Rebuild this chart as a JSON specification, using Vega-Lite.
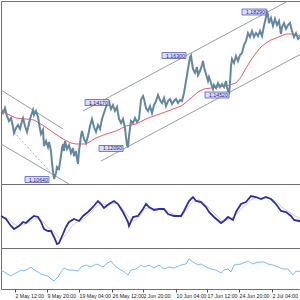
{
  "$schema": "https://vega.github.io/schema/vega-lite/v6.json",
  "padding": 0,
  "spacing": 0,
  "bounds": "flush",
  "background": "white",
  "config": {"view": {"stroke": "#707070", "strokeWidth": 1}, "concat": {"spacing": 0}},
  "datasets": {
    "price": [
      {"t":0,"p":1.13848},{"t":2,"p":1.13664},{"t":4,"p":1.13893},{"t":6,"p":1.13527},{"t":8,"p":1.13298},{"t":10,"p":1.13435},{"t":12,"p":1.13023},{"t":13,"p":1.12748},{"t":15,"p":1.12977},{"t":17,"p":1.13115},{"t":19,"p":1.12932},{"t":21,"p":1.13298},{"t":22,"p":1.13435},{"t":24,"p":1.13069},{"t":26,"p":1.12794},{"t":27,"p":1.12977},{"t":29,"p":1.1339},{"t":31,"p":1.13664},{"t":32,"p":1.13802},{"t":33,"p":1.13573},{"t":35,"p":1.13756},{"t":37,"p":1.13481},{"t":39,"p":1.12932},{"t":40,"p":1.12703},{"t":42,"p":1.12886},{"t":43,"p":1.12153},{"t":45,"p":1.12382},{"t":47,"p":1.12107},{"t":48,"p":1.12336},{"t":50,"p":1.11924},{"t":51,"p":1.11374},{"t":52,"p":1.11008},{"t":53,"p":1.1064},{"t":55,"p":1.10916},{"t":56,"p":1.11191},{"t":58,"p":1.111},{"t":60,"p":1.11695},{"t":61,"p":1.12061},{"t":62,"p":1.12245},{"t":63,"p":1.11924},{"t":64,"p":1.12382},{"t":66,"p":1.12016},{"t":68,"p":1.12199},{"t":70,"p":1.11832},{"t":72,"p":1.12061},{"t":73,"p":1.11695},{"t":75,"p":1.11924},{"t":76,"p":1.11558},{"t":77,"p":1.11329},{"t":78,"p":1.11924},{"t":80,"p":1.12611},{"t":81,"p":1.1284},{"t":83,"p":1.12474},{"t":85,"p":1.1229},{"t":87,"p":1.12611},{"t":89,"p":1.13069},{"t":91,"p":1.1339},{"t":93,"p":1.13023},{"t":95,"p":1.12794},{"t":97,"p":1.13115},{"t":99,"p":1.12932},{"t":101,"p":1.1339},{"t":103,"p":1.13664},{"t":105,"p":1.13939},{"t":107,"p":1.14122},{"t":108,"p":1.1417},{"t":110,"p":1.13848},{"t":112,"p":1.14031},{"t":114,"p":1.13756},{"t":116,"p":1.13939},{"t":118,"p":1.1339},{"t":120,"p":1.13206},{"t":122,"p":1.1339},{"t":124,"p":1.12977},{"t":125,"p":1.12565},{"t":126,"p":1.12199},{"t":127,"p":1.1209},{"t":128,"p":1.12611},{"t":130,"p":1.13298},{"t":132,"p":1.13206},{"t":134,"p":1.13435},{"t":136,"p":1.13252},{"t":138,"p":1.1339},{"t":140,"p":1.1426},{"t":142,"p":1.14443},{"t":143,"p":1.14306},{"t":145,"p":1.13893},{"t":147,"p":1.13756},{"t":149,"p":1.13985},{"t":151,"p":1.13664},{"t":153,"p":1.14031},{"t":155,"p":1.14214},{"t":157,"p":1.14489},{"t":159,"p":1.1426},{"t":161,"p":1.14122},{"t":163,"p":1.14351},{"t":165,"p":1.13985},{"t":167,"p":1.14214},{"t":169,"p":1.14306},{"t":171,"p":1.14077},{"t":173,"p":1.14214},{"t":175,"p":1.14306},{"t":177,"p":1.14122},{"t":179,"p":1.1426},{"t":181,"p":1.14214},{"t":183,"p":1.1458},{"t":185,"p":1.1513},{"t":186,"p":1.15405},{"t":188,"p":1.15954},{"t":189,"p":1.16229},{"t":190,"p":1.163},{"t":191,"p":1.15954},{"t":192,"p":1.1568},{"t":194,"p":1.15496},{"t":196,"p":1.15771},{"t":197,"p":1.15405},{"t":199,"p":1.15588},{"t":201,"p":1.15863},{"t":202,"p":1.16046},{"t":203,"p":1.15771},{"t":205,"p":1.15451},{"t":207,"p":1.1513},{"t":208,"p":1.15313},{"t":210,"p":1.15038},{"t":212,"p":1.14764},{"t":213,"p":1.14947},{"t":215,"p":1.14809},{"t":217,"p":1.15038},{"t":219,"p":1.14855},{"t":221,"p":1.14993},{"t":223,"p":1.14855},{"t":225,"p":1.1513},{"t":226,"p":1.14855},{"t":228,"p":1.1452},{"t":229,"p":1.15038},{"t":230,"p":1.15817},{"t":231,"p":1.16138},{"t":233,"p":1.15954},{"t":235,"p":1.16275},{"t":237,"p":1.16046},{"t":239,"p":1.16321},{"t":241,"p":1.16412},{"t":243,"p":1.16779},{"t":245,"p":1.16962},{"t":247,"p":1.17328},{"t":249,"p":1.17145},{"t":251,"p":1.1742},{"t":253,"p":1.17145},{"t":255,"p":1.17328},{"t":257,"p":1.17191},{"t":259,"p":1.1742},{"t":261,"p":1.17191},{"t":263,"p":1.17649},{"t":265,"p":1.18061},{"t":266,"p":1.1829},{"t":267,"p":1.18153},{"t":268,"p":1.17786},{"t":270,"p":1.18015},{"t":272,"p":1.17649},{"t":274,"p":1.1797},{"t":276,"p":1.17695},{"t":278,"p":1.17878},{"t":280,"p":1.17283},{"t":281,"p":1.17603},{"t":283,"p":1.17786},{"t":285,"p":1.17512},{"t":287,"p":1.17695},{"t":289,"p":1.17786},{"t":291,"p":1.1742},{"t":293,"p":1.17145},{"t":295,"p":1.17328},{"t":297,"p":1.17054},{"t":299,"p":1.17145},{"t":300,"p":1.17099}
    ],
    "ma": [
      {"t":0,"p":1.13756},{"t":15,"p":1.13435},{"t":25,"p":1.1339},{"t":33,"p":1.13344},{"t":43,"p":1.13069},{"t":53,"p":1.12748},{"t":62,"p":1.12474},{"t":70,"p":1.1229},{"t":75,"p":1.12245},{"t":85,"p":1.12245},{"t":95,"p":1.12519},{"t":105,"p":1.12703},{"t":115,"p":1.1284},{"t":125,"p":1.13069},{"t":135,"p":1.13161},{"t":145,"p":1.1339},{"t":150,"p":1.13481},{"t":167,"p":1.13756},{"t":180,"p":1.13985},{"t":183,"p":1.14077},{"t":190,"p":1.14351},{"t":197,"p":1.14626},{"t":203,"p":1.14764},{"t":210,"p":1.14809},{"t":217,"p":1.14855},{"t":225,"p":1.14901},{"t":235,"p":1.15038},{"t":240,"p":1.15313},{"t":245,"p":1.15725},{"t":250,"p":1.16092},{"t":255,"p":1.16412},{"t":260,"p":1.16687},{"t":265,"p":1.1687},{"t":270,"p":1.17008},{"t":275,"p":1.17099},{"t":280,"p":1.17191},{"t":285,"p":1.17283},{"t":290,"p":1.17283},{"t":295,"p":1.17237},{"t":300,"p":1.17191}
    ],
    "chan": [
      {"id":"a","t":0,"p":1.14718},{"id":"a","t":62,"p":1.12932},
      {"id":"b","t":0,"p":1.12245},{"id":"b","t":68,"p":1.10413},
      {"id":"c","t":82,"p":1.13756},{"id":"c","t":287,"p":1.18794},
      {"id":"d","t":100,"p":1.11466},{"id":"d","t":300,"p":1.16367}
    ],
    "guide": [{"t":13,"p":1.12794},{"t":50,"p":1.10916}],
    "labels": [
      {"t":48,"p":1.10619,"label":"1.10640"},
      {"t":108,"p":1.14145,"label":"1.14170"},
      {"t":122,"p":1.12039,"label":"1.12090"},
      {"t":185,"p":1.16298,"label":"1.16300"},
      {"t":228,"p":1.14489,"label":"1.14520"},
      {"t":265,"p":1.1829,"label":"1.18290"}
    ],
    "macd": [
      {"t":0,"v":0.0001},{"t":5,"v":-0.0002},{"t":10,"v":-0.0009},{"t":13,"v":-0.0012},{"t":18,"v":-0.0009},{"t":22,"v":-0.0005},{"t":25,"v":-0.0006},{"t":28,"v":-0.0003},{"t":33,"v":0.0001},{"t":37,"v":0},{"t":40,"v":-0.0005},{"t":43,"v":-0.0012},{"t":47,"v":-0.0014},{"t":50,"v":-0.0014},{"t":53,"v":-0.002},{"t":56,"v":-0.0027},{"t":58,"v":-0.0026},{"t":62,"v":-0.0017},{"t":65,"v":-0.001},{"t":68,"v":-0.0005},{"t":73,"v":-0.0002},{"t":78,"v":-0.0004},{"t":82,"v":0.0001},{"t":87,"v":0.0005},{"t":92,"v":0.001},{"t":97,"v":0.0016},{"t":100,"v":0.0013},{"t":103,"v":0.0009},{"t":108,"v":0.0013},{"t":113,"v":0.0016},{"t":117,"v":0.0013},{"t":122,"v":0.0005},{"t":127,"v":-0.0005},{"t":128,"v":-0.0009},{"t":132,"v":0},{"t":137,"v":0.0001},{"t":142,"v":0.0008},{"t":145,"v":0.0013},{"t":148,"v":0.001},{"t":153,"v":0.0007},{"t":158,"v":0.0008},{"t":163,"v":0.0008},{"t":167,"v":0.0003},{"t":173,"v":0.0001},{"t":180,"v":0.0001},{"t":183,"v":0.0006},{"t":188,"v":0.0016},{"t":192,"v":0.002},{"t":195,"v":0.0016},{"t":200,"v":0.0015},{"t":205,"v":0.001},{"t":208,"v":0.0005},{"t":213,"v":0},{"t":220,"v":-0.0006},{"t":223,"v":-0.0004},{"t":227,"v":0},{"t":232,"v":-0.0003},{"t":235,"v":0.0005},{"t":240,"v":0.0013},{"t":245,"v":0.0015},{"t":250,"v":0.0021},{"t":255,"v":0.002},{"t":260,"v":0.0018},{"t":265,"v":0.002},{"t":270,"v":0.0018},{"t":275,"v":0.0013},{"t":280,"v":0.0006},{"t":285,"v":0.0005},{"t":290,"v":0.0001},{"t":293,"v":-0.0003},{"t":298,"v":-0.0004},{"t":300,"v":-0.0004}
    ],
    "signal": [
      {"t":0,"v":0},{"t":6,"v":-0.0001},{"t":12,"v":-0.0006},{"t":18,"v":-0.0009},{"t":24,"v":-0.0007},{"t":30,"v":-0.0004},{"t":36,"v":-0.0001},{"t":42,"v":-0.0005},{"t":48,"v":-0.0011},{"t":54,"v":-0.0016},{"t":60,"v":-0.0022},{"t":66,"v":-0.0016},{"t":72,"v":-0.0008},{"t":78,"v":-0.0004},{"t":84,"v":-0.0001},{"t":90,"v":0.0005},{"t":96,"v":0.0011},{"t":102,"v":0.0013},{"t":108,"v":0.0012},{"t":114,"v":0.0014},{"t":120,"v":0.001},{"t":126,"v":0.0002},{"t":132,"v":-0.0004},{"t":138,"v":0},{"t":144,"v":0.0008},{"t":150,"v":0.0009},{"t":156,"v":0.0008},{"t":162,"v":0.0008},{"t":168,"v":0.0005},{"t":174,"v":0.0002},{"t":180,"v":0.0001},{"t":186,"v":0.0008},{"t":192,"v":0.0015},{"t":198,"v":0.0017},{"t":204,"v":0.0013},{"t":210,"v":0.0007},{"t":216,"v":0.0001},{"t":222,"v":-0.0004},{"t":228,"v":-0.0002},{"t":234,"v":0.0001},{"t":240,"v":0.0008},{"t":246,"v":0.0013},{"t":252,"v":0.0018},{"t":258,"v":0.0019},{"t":264,"v":0.0019},{"t":270,"v":0.0018},{"t":276,"v":0.0015},{"t":282,"v":0.0009},{"t":288,"v":0.0005},{"t":294,"v":0.0001},{"t":300,"v":-0.0002}
    ],
    "rsi": [
      {"t":0,"v":47.5},{"t":5,"v":40},{"t":10,"v":32.5},{"t":13,"v":37.5},{"t":17,"v":42.5},{"t":20,"v":47.5},{"t":23,"v":45},{"t":27,"v":50},{"t":30,"v":55},{"t":33,"v":47.5},{"t":37,"v":42.5},{"t":40,"v":37.5},{"t":43,"v":35},{"t":47,"v":32.5},{"t":50,"v":25},{"t":53,"v":20},{"t":57,"v":30},{"t":60,"v":42.5},{"t":63,"v":52.5},{"t":67,"v":47.5},{"t":72,"v":47.5},{"t":77,"v":45},{"t":80,"v":55},{"t":85,"v":60},{"t":90,"v":55},{"t":95,"v":62.5},{"t":98,"v":60},{"t":102,"v":55},{"t":105,"v":62.5},{"t":110,"v":70},{"t":113,"v":60},{"t":118,"v":50},{"t":122,"v":45},{"t":127,"v":35},{"t":130,"v":47.5},{"t":135,"v":50},{"t":140,"v":60},{"t":143,"v":55},{"t":148,"v":60},{"t":153,"v":52.5},{"t":158,"v":60},{"t":163,"v":50},{"t":168,"v":55},{"t":173,"v":52.5},{"t":180,"v":60},{"t":185,"v":62.5},{"t":188,"v":75},{"t":192,"v":67.5},{"t":197,"v":60},{"t":200,"v":62.5},{"t":205,"v":55},{"t":210,"v":50},{"t":215,"v":47.5},{"t":220,"v":40},{"t":223,"v":47.5},{"t":227,"v":50},{"t":230,"v":42.5},{"t":233,"v":60},{"t":240,"v":62.5},{"t":247,"v":70},{"t":252,"v":62.5},{"t":257,"v":67.5},{"t":263,"v":67.5},{"t":267,"v":62.5},{"t":272,"v":60},{"t":277,"v":55},{"t":282,"v":50},{"t":287,"v":50},{"t":292,"v":35},{"t":295,"v":45},{"t":300,"v":42.5}
    ]
  },
  "vconcat": [
    {
      "width": 300,
      "height": 183,
      "layer": [
        {
          "mark": {"type": "rule", "color": "#c8c8c8", "strokeWidth": 1, "clip": true},
          "encoding": {"y": {"datum": 1.1665, "type": "quantitative", "scale": {"domain": [1.10413, 1.18794], "nice": false, "zero": false}, "axis": null}}
        },
        {
          "mark": {"type": "rule", "color": "#8a8a8a", "strokeWidth": 1, "strokeDash": [1.5, 1.5], "clip": true},
          "encoding": {"y": {"datum": 1.1635, "type": "quantitative", "axis": null}}
        },
        {
          "data": {"name": "chan"},
          "mark": {"type": "line", "color": "#93a29b", "strokeWidth": 1, "clip": true},
          "encoding": {
            "x": {"field": "t", "type": "quantitative", "scale": {"domain": [0, 300], "nice": false, "zero": false}, "axis": null},
            "y": {"field": "p", "type": "quantitative", "axis": null},
            "detail": {"field": "id"}
          }
        },
        {
          "data": {"name": "guide"},
          "mark": {"type": "line", "color": "#a0aaa5", "strokeWidth": 1, "strokeDash": [2, 2], "clip": true},
          "encoding": {
            "x": {"field": "t", "type": "quantitative", "axis": null},
            "y": {"field": "p", "type": "quantitative", "axis": null}
          }
        },
        {
          "mark": {"type": "text", "text": "Action Forex", "font": "Liberation Sans", "fontSize": 11.8, "color": "#c6c6c6", "align": "center", "baseline": "alphabetic", "clip": true},
          "encoding": {
            "x": {"datum": 250, "type": "quantitative", "axis": null},
            "y": {"datum": 1.1197, "type": "quantitative", "axis": null}
          }
        },
        {
          "data": {"name": "ma"},
          "mark": {"type": "line", "color": "#f25c5c", "strokeWidth": 1, "clip": true},
          "encoding": {
            "x": {"field": "t", "type": "quantitative", "axis": null},
            "y": {"field": "p", "type": "quantitative", "axis": null}
          }
        },
        {
          "data": {"name": "price"},
          "mark": {"type": "line", "color": "#6387a0", "strokeWidth": 2, "clip": true},
          "encoding": {
            "x": {"field": "t", "type": "quantitative", "axis": null},
            "y": {"field": "p", "type": "quantitative", "axis": null}
          }
        },
        {
          "data": {"name": "labels"},
          "mark": {"type": "point", "shape": "M-2,-0.25H0V0.25H-2Z", "size": 576, "filled": true, "fill": "#dcdcf6", "stroke": "#5a5ac8", "strokeWidth": 0.8, "opacity": 1, "clip": true},
          "encoding": {
            "x": {"field": "t", "type": "quantitative", "axis": null},
            "y": {"field": "p", "type": "quantitative", "axis": null}
          }
        },
        {
          "data": {"name": "labels"},
          "mark": {"type": "text", "font": "Liberation Sans", "fontSize": 5.2, "color": "#1c1c80", "align": "right", "baseline": "middle", "dx": -1.2, "clip": true},
          "encoding": {
            "x": {"field": "t", "type": "quantitative", "axis": null},
            "y": {"field": "p", "type": "quantitative", "axis": null},
            "text": {"field": "label"}
          }
        },
        {
          "mark": {"type": "text", "text": "35 1.16779 1.16537 1.16638", "font": "Liberation Sans", "fontSize": 4.6, "color": "#303030", "align": "left", "baseline": "top", "clip": true},
          "encoding": {
            "x": {"datum": 0, "type": "quantitative", "axis": null},
            "y": {"datum": 1.1871, "type": "quantitative", "axis": null}
          }
        }
      ]
    },
    {
      "width": 300,
      "height": 64,
      "layer": [
        {
          "mark": {"type": "rule", "color": "#b4b4b4", "strokeWidth": 1, "strokeDash": [1.5, 1.5], "clip": true},
          "encoding": {"y": {"datum": 0, "type": "quantitative", "scale": {"domain": [-0.0031, 0.0033], "nice": false, "zero": false}, "axis": null}}
        },
        {
          "data": {"name": "signal"},
          "mark": {"type": "line", "color": "#cfcfcf", "strokeWidth": 1, "interpolate": "monotone", "clip": true},
          "encoding": {
            "x": {"field": "t", "type": "quantitative", "scale": {"domain": [0, 300], "nice": false, "zero": false}, "axis": null},
            "y": {"field": "v", "type": "quantitative", "axis": null}
          }
        },
        {
          "data": {"name": "macd"},
          "mark": {"type": "line", "color": "#2e2ea6", "strokeWidth": 1.8, "clip": true},
          "encoding": {
            "x": {"field": "t", "type": "quantitative", "axis": null},
            "y": {"field": "v", "type": "quantitative", "axis": null}
          }
        },
        {
          "mark": {"type": "text", "text": "511 -0.001434", "font": "Liberation Sans", "fontSize": 4.6, "color": "#303030", "align": "left", "baseline": "top", "clip": true},
          "encoding": {
            "x": {"datum": 0, "type": "quantitative", "axis": null},
            "y": {"datum": 0.0029, "type": "quantitative", "axis": null}
          }
        }
      ]
    },
    {
      "width": 300,
      "height": 41,
      "layer": [
        {
          "mark": {"type": "rule", "color": "#b4b4b4", "strokeWidth": 1, "strokeDash": [1.5, 1.5], "clip": true},
          "encoding": {"y": {"datum": 70, "type": "quantitative", "scale": {"domain": [0, 102.5], "nice": false, "zero": false}, "axis": null}}
        },
        {
          "mark": {"type": "rule", "color": "#b4b4b4", "strokeWidth": 1, "strokeDash": [1.5, 1.5], "clip": true},
          "encoding": {"y": {"datum": 30, "type": "quantitative", "axis": null}}
        },
        {
          "data": {"name": "rsi"},
          "mark": {"type": "line", "color": "#7dbdf8", "strokeWidth": 1, "clip": true},
          "encoding": {
            "x": {
              "field": "t", "type": "quantitative",
              "scale": {"domain": [0, 300], "nice": false, "zero": false},
              "axis": {
                "values": [14, 46, 78, 111, 142, 175, 206, 238, 271],
                "labelExpr": "datum.value == 14 ? '2 May 12:00' : datum.value == 46 ? '9 May 20:00' : datum.value == 78 ? '19 May 04:00' : datum.value == 111 ? '26 May 12:00' : datum.value == 142 ? '2 Jun 20:00' : datum.value == 175 ? '10 Jun 04:00' : datum.value == 206 ? '17 Jun 12:00' : datum.value == 238 ? '24 Jun 20:00' : '2 Jul 04:00'",
                "labelAlign": "left", "labelDx": 1, "labelBaseline": "top", "labelPadding": 1,
                "labelFont": "Liberation Sans", "labelFontSize": 5.2, "labelColor": "#202020",
                "labelBound": false, "labelFlush": false, "labelOverlap": false,
                "ticks": true, "tickSize": 3, "tickColor": "#505050", "domain": false, "grid": false, "title": null
              }
            },
            "y": {"field": "v", "type": "quantitative", "axis": null}
          }
        }
      ]
    }
  ]
}
